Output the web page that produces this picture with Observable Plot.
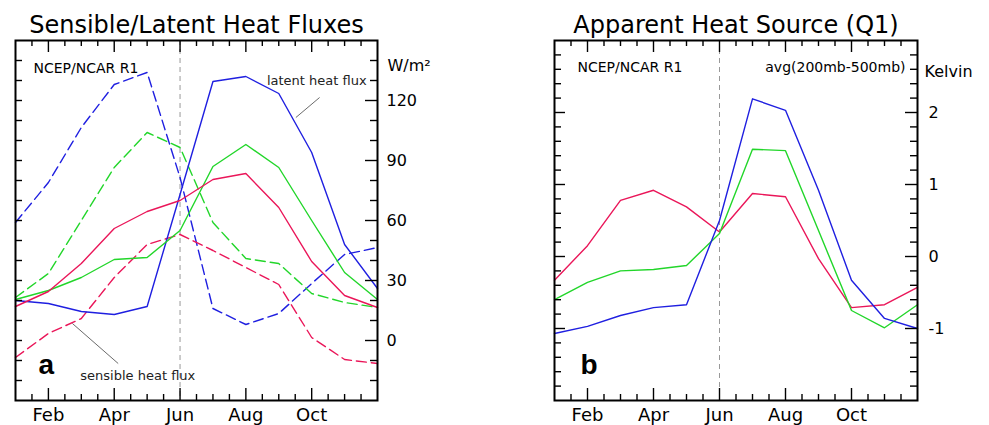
<!DOCTYPE html>
<html><head><meta charset="utf-8">
<script src="https://cdn.jsdelivr.net/npm/d3@7"></script>
<script src="https://cdn.jsdelivr.net/npm/@observablehq/plot@0.6"></script>
<style>
body{margin:0;background:#fff;}
#wrap{display:flex;width:989px;height:425px;}
#wrap svg{display:block;}
</style></head><body><div id="wrap"></div>
<script>
const months = ["Jan","Feb","Mar","Apr","May","Jun","Jul","Aug","Sep","Oct","Nov","Dec"];
const labeledMonths = [1,3,5,7,9];
const fluxTicks = [0,30,60,90,120];
const q1Ticks = [-1,0,1,2];

// Left panel (W/m^2): dashed = sensible heat flux, solid = latent heat flux
const sensibleBlue  = [59,79,106.5,128,134,81.5,16,8,13.5,28.5,43,46.5];
const sensibleGreen = [21.5,33.5,60,86.5,104,96.5,59,41,38.5,23.5,19,16.5];
const sensibleRed   = [-8.5,3.5,11,31.5,48,53,45,36.5,28,1.5,-9.5,-11.5];
const latentBlue    = [20,18.5,14.5,13,17,73,129.5,132,123.5,94,48,26];
const latentGreen   = [20.5,25,31.5,40.5,41.5,55,87,98,86.5,60,34,20.5];
const latentRed     = [17,24.5,38.5,56,64.5,70,80.5,83.5,66.5,39.5,22.5,16.5];

// Right panel (Kelvin): Q1 averaged 200mb-500mb
const q1Blue  = [-1.07,-0.97,-0.82,-0.71,-0.67,0.5,2.19,2.03,0.92,-0.33,-0.86,-1.0];
const q1Green = [-0.6,-0.36,-0.2,-0.18,-0.125,0.32,1.49,1.47,0.36,-0.75,-0.99,-0.67];
const q1Red   = [-0.33,0.15,0.78,0.92,0.69,0.34,0.875,0.83,-0.03,-0.71,-0.67,-0.43];

const BLUE = "#1f1fe0", GREEN = "#22d62a", RED = "#ea1659";
const FONT = "DejaVu Sans";
const H = 425, MT = 40, MB = 25, FH = H - MT - MB;

const toRows = arr => arr.map((v, m) => ({m, v}));
const round = d => Math.round(d * 100) / 100;

function xTickMarks() {
  const minor = d3.range(0.5, 11, 0.5).filter(d => !labeledMonths.includes(d));
  const s = {stroke: "black", strokeWidth: 1.4};
  return [
    Plot.ruleX(minor, {...s, insetTop: FH - 6}),
    Plot.ruleX(labeledMonths, {...s, insetTop: FH - 12}),
    Plot.ruleX(minor, {...s, insetBottom: FH - 6}),
    Plot.ruleX(labeledMonths, {...s, insetBottom: FH - 12})
  ];
}
function yTickMarks(minor, major, FW, leftMajorLen) {
  const s = {stroke: "black", strokeWidth: 1.4};
  return [
    Plot.ruleY(minor, {...s, insetRight: FW - 7}),
    Plot.ruleY(major, {...s, insetRight: FW - leftMajorLen}),
    Plot.ruleY(minor, {...s, insetLeft: FW - 7}),
    Plot.ruleY(major, {...s, insetLeft: FW - 12})
  ];
}
const lineOpts = (color, dashed) => ({x: "m", y: "v", stroke: color, strokeWidth: 1.4, strokeDasharray: dashed ? "10,5" : null});

// ---------- Left panel ----------
const W1 = 494, ML1 = 15, MR1 = W1 - 377, FW1 = W1 - ML1 - MR1;
const fluxMinor = d3.range(-20, 150, 10).filter(d => !fluxTicks.includes(d));
const left = Plot.plot({
  width: W1, height: H,
  marginLeft: ML1, marginRight: MR1, marginTop: MT, marginBottom: MB,
  x: {domain: [0, 11]},
  y: {domain: [-30, 150]},
  style: {fontFamily: FONT, background: "white", overflow: "visible"},
  marks: [
    Plot.ruleX([5], {stroke: "#999", strokeWidth: 1, strokeDasharray: "5,4"}),
    Plot.line(toRows(sensibleBlue), lineOpts(BLUE, true)),
    Plot.line(toRows(sensibleGreen), lineOpts(GREEN, true)),
    Plot.line(toRows(sensibleRed), lineOpts(RED, true)),
    Plot.line(toRows(latentBlue), lineOpts(BLUE, false)),
    Plot.line(toRows(latentGreen), lineOpts(GREEN, false)),
    Plot.line(toRows(latentRed), lineOpts(RED, false)),
    Plot.link([{x1: 9.24, y1: 121.5, x2: 8.52, y2: 111.5}, {x1: 1.73, y1: 8.5, x2: 3.12, y2: -11.5}],
      {x1: "x1", y1: "y1", x2: "x2", y2: "y2", stroke: "#444", strokeWidth: 0.8}),
    Plot.text(["latent heat flux"], {x: 7.64, y: 130, text: d => d, textAnchor: "start", fontSize: 13, fill: "#222"}),
    Plot.text(["sensible heat flux"], {x: 1.97, y: -17.5, text: d => d, textAnchor: "start", fontSize: 13, fill: "#222"}),
    ...xTickMarks(),
    ...yTickMarks(fluxMinor, fluxTicks, FW1, 7),
    Plot.frame({stroke: "black", strokeWidth: 2}),
    Plot.axisY({anchor: "right", ticks: fluxTicks, tickFormat: d => String(d), tickSize: 0, tickPadding: 9, fontSize: 16, label: null}),
    Plot.axisX({anchor: "bottom", ticks: labeledMonths, tickFormat: i => months[i], tickSize: 0, tickPadding: 8, fontSize: 18, label: null}),
    Plot.text(["Sensible/Latent Heat Fluxes"], {frameAnchor: "top", text: d => d, lineAnchor: "bottom", dy: -8, fontSize: 24}),
    Plot.text(["NCEP/NCAR R1"], {frameAnchor: "top-left", text: d => d, textAnchor: "start", lineAnchor: "middle", dx: 18, dy: 28, fontSize: 14}),
    Plot.text(["W/m²"], {frameAnchor: "top-right", text: d => d, textAnchor: "start", lineAnchor: "middle", dx: 10, dy: 25, fontSize: 16}),
    Plot.text(["a"], {frameAnchor: "bottom-left", text: d => d, textAnchor: "start", lineAnchor: "bottom", dx: 23, dy: -27, fontSize: 28, fontWeight: "bold", fontFamily: "Liberation Sans"})
  ]
});

// ---------- Right panel ----------
const W2 = 495, ML2 = 554 - W1, MR2 = W1 + W2 - 917, FW2 = W2 - ML2 - MR2;
const q1Minor = d3.range(-1.8, 2.9, 0.2).map(round).filter(d => !q1Ticks.includes(d));
const right = Plot.plot({
  width: W2, height: H,
  marginLeft: ML2, marginRight: MR2, marginTop: MT, marginBottom: MB,
  x: {domain: [0, 11]},
  y: {domain: [-2, 3]},
  style: {fontFamily: FONT, background: "white", overflow: "visible"},
  marks: [
    Plot.ruleX([5], {stroke: "#999", strokeWidth: 1, strokeDasharray: "5,4"}),
    Plot.line(toRows(q1Red), lineOpts(RED, false)),
    Plot.line(toRows(q1Green), lineOpts(GREEN, false)),
    Plot.line(toRows(q1Blue), lineOpts(BLUE, false)),
    ...xTickMarks(),
    ...yTickMarks(q1Minor, q1Ticks, FW2, 11),
    Plot.frame({stroke: "black", strokeWidth: 2}),
    Plot.axisY({anchor: "right", ticks: q1Ticks, tickFormat: d => String(d), tickSize: 0, tickPadding: 11, fontSize: 16, label: null}),
    Plot.axisX({anchor: "bottom", ticks: labeledMonths, tickFormat: i => months[i], tickSize: 0, tickPadding: 8, fontSize: 18, label: null}),
    Plot.text(["Apparent Heat Source (Q1)"], {frameAnchor: "top", text: d => d, lineAnchor: "bottom", dy: -8, fontSize: 24}),
    Plot.text(["NCEP/NCAR R1"], {frameAnchor: "top-left", text: d => d, textAnchor: "start", lineAnchor: "middle", dx: 23, dy: 27, fontSize: 14}),
    Plot.text(["avg(200mb-500mb)"], {frameAnchor: "top-right", text: d => d, textAnchor: "end", lineAnchor: "middle", dx: -12, dy: 27, fontSize: 14}),
    Plot.text(["Kelvin"], {frameAnchor: "top-right", text: d => d, textAnchor: "start", lineAnchor: "middle", dx: 7, dy: 31, fontSize: 16}),
    Plot.text(["b"], {frameAnchor: "bottom-left", text: d => d, textAnchor: "start", lineAnchor: "bottom", dx: 26, dy: -27, fontSize: 28, fontWeight: "bold", fontFamily: "Liberation Sans"})
  ]
});

document.getElementById("wrap").append(left, right);
</script></body></html>
